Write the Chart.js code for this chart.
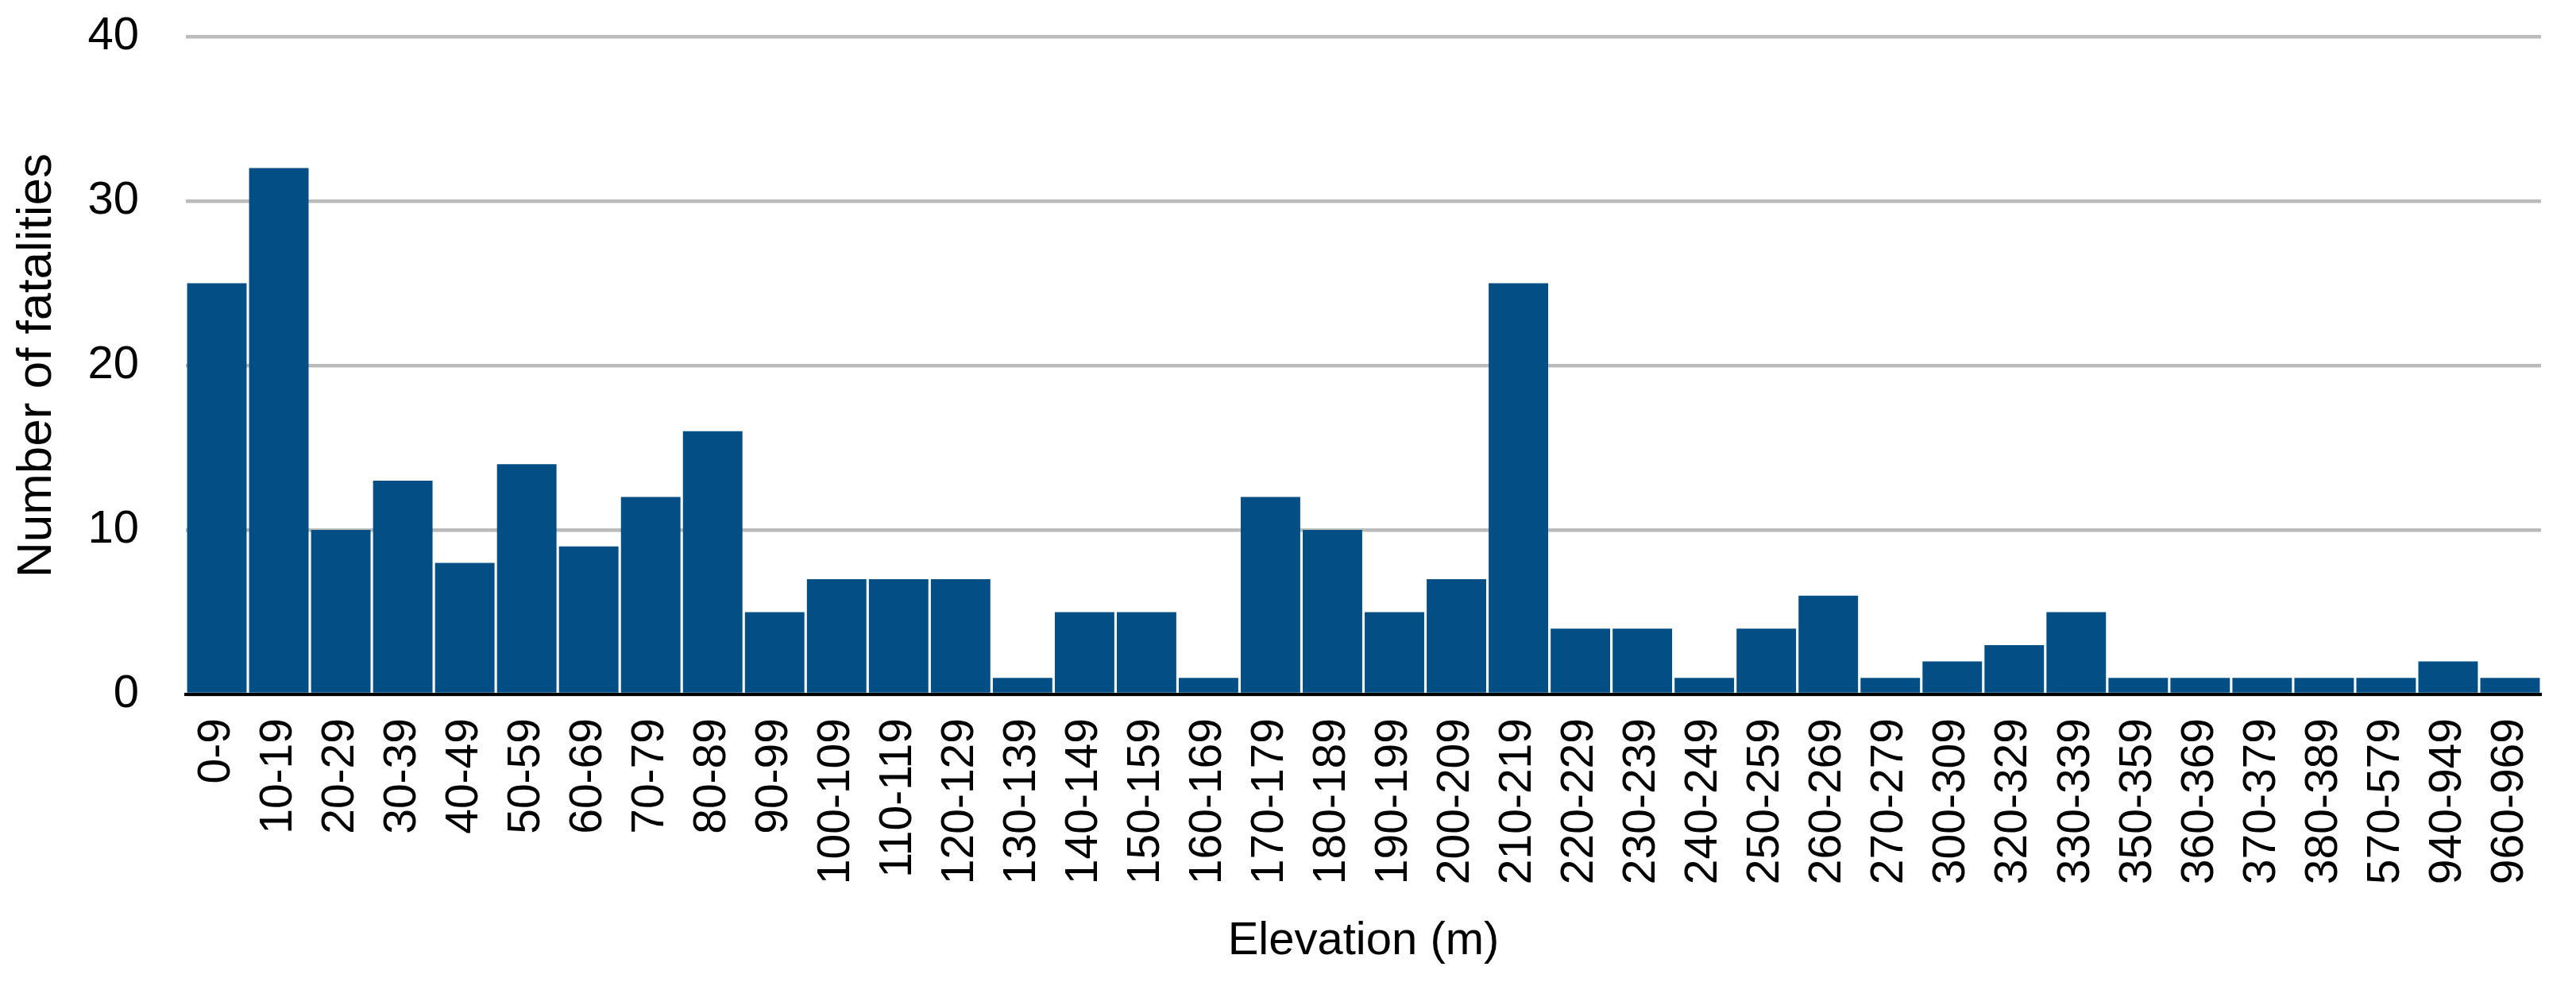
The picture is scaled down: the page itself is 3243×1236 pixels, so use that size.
<!DOCTYPE html>
<html>
<head>
<meta charset="utf-8">
<script src="https://cdn.jsdelivr.net/npm/chart.js@4/dist/chart.umd.min.js"></script>
<style>
  html, body { margin: 0; padding: 0; background: #fff; }
  #wrap { width: 3243px; height: 1236px; }
</style>
</head>
<body>
<div id="wrap"><canvas id="elevChart" width="3243" height="1236"></canvas></div>
<script>
// Datos
const elevationBands = ['0-9', '10-19', '20-29', '30-39', '40-49', '50-59', '60-69', '70-79', '80-89', '90-99',
    '100-109', '110-119', '120-129', '130-139', '140-149', '150-159', '160-169', '170-179', '180-189', '190-199',
    '200-209', '210-219', '220-229', '230-239', '240-249', '250-259', '260-269', '270-279', '300-309', '320-329',
    '330-339', '350-359', '360-369', '370-379', '380-389', '570-579', '940-949', '960-969'];
const fatalities = [25, 32, 10, 13, 8, 14, 9, 12, 16, 5,
    7, 7, 7, 1, 5, 5, 1, 12, 10, 5,
    7, 25, 4, 4, 1, 4, 6, 1, 2, 3,
    5, 1, 1, 1, 1, 1, 2, 1];
const yTicks = [0, 10, 20, 30, 40];

Chart.defaults.font.family = "'Liberation Sans', Arial, Helvetica, sans-serif";
Chart.defaults.color = '#000';

const config = {
    type: 'bar',
    data: {
        labels: elevationBands,
        datasets: [{
            label: 'Number of fatalities',
            data: fatalities,
            backgroundColor: '#034e85',
            borderWidth: 0,
            barPercentage: 0.96,
            categoryPercentage: 1.0
        }]
    },
    options: {
        responsive: false,
        animation: false,
        devicePixelRatio: 1,
        layout: { padding: { top: 46, right: 44, bottom: 0, left: 0 } },
        plugins: {
            legend: { display: false },
            tooltip: { enabled: false }
        },
        scales: {
            x: {
                z: 1,
                grid: { display: false, drawTicks: false },
                border: { display: true, color: '#000', width: 4 },
                ticks: {
                    font: { size: 57 },
                    color: '#000',
                    minRotation: 90,
                    maxRotation: 90,
                    autoSkip: false,
                    padding: 30
                },
                title: {
                    display: true,
                    text: 'Elevation (m)',
                    font: { size: 58 },
                    color: '#000',
                    padding: { top: 0, bottom: 16 }
                },
                afterFit: (scale) => {
                    scale.height = 362;
                    scale.paddingLeft = 0;
                    scale.paddingRight = 0;
                }
            },
            y: {
                min: yTicks[0],
                max: yTicks[yTicks.length - 1],
                grid: { color: '#bbbbbb', lineWidth: 4.5, drawTicks: false },
                border: { display: false },
                ticks: {
                    stepSize: 10,
                    font: { size: 58 },
                    color: '#000',
                    padding: 59
                },
                afterBuildTicks: (scale) => { scale.ticks = yTicks.map(v => ({ value: v })); },
                title: {
                    display: true,
                    text: 'Number of fatalities',
                    font: { size: 62 },
                    color: '#000',
                    padding: { top: 10, bottom: 0 }
                },
                afterFit: (scale) => {
                    scale.width = 234;
                    scale.paddingTop = 0;
                    scale.paddingBottom = 0;
                }
            }
        }
    }
};

const elevChart = new Chart(document.getElementById('elevChart'), config);
</script>
</body>
</html>
